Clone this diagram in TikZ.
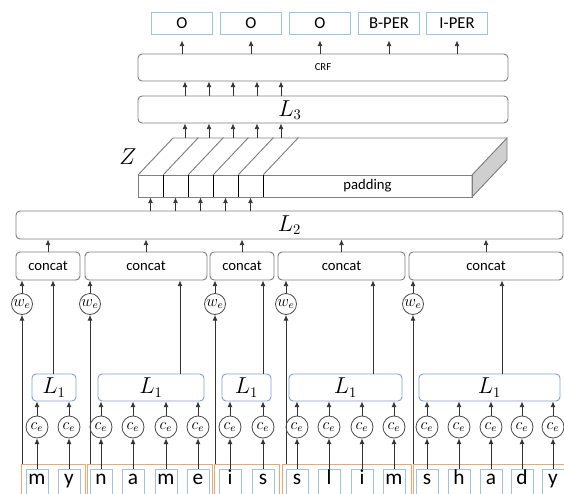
\documentclass[tikz,border=0pt]{standalone}
\usepackage{fontspec}
\setsansfont{Carlito}
\usetikzlibrary{arrows.meta}
\definecolor{boxgray}{HTML}{7F7F7F}
\definecolor{lblue}{HTML}{9DC3E6}
\definecolor{lonecol}{HTML}{7FA0DA}
\definecolor{orng}{HTML}{F2A66E}
\definecolor{zside}{HTML}{CFCFCF}

\begin{document}
\begin{tikzpicture}[
    x=0.75pt, y=-0.75pt,
    sz/.style 2 args={minimum width=#1*0.75pt, minimum height=#2*0.75pt},
    box/.style={rectangle, rounded corners=3pt, draw=boxgray, line width=0.7pt, inner sep=0pt, font=\sffamily\fontsize{11}{13}\selectfont},
    lbox/.style={box, font=\fontsize{16}{18}\selectfont},
    lone/.style={lbox, draw=lonecol},
    outbox/.style={rectangle, draw=lblue, line width=0.7pt, inner sep=0pt, font=\sffamily\fontsize{12.5}{15}\selectfont},
    letter/.style={outbox, sz={22}{25}, font=\sffamily\fontsize{16}{18}\selectfont, text height=0.47em, text depth=0pt},
    grp/.style={rectangle, draw=orng, line width=0.7pt},
    emb/.style={circle, draw=black!70, line width=0.6pt, inner sep=0pt, minimum size=16.5pt, font=\fontsize{12}{14}\selectfont},
    cell/.style={rectangle, draw=boxgray, line width=0.7pt, inner sep=0pt, sz={25}{22}, font=\sffamily\fontsize{11}{13}\selectfont},
    zline/.style={draw=boxgray, line width=0.7pt},
    divider/.style={draw=black, line width=1.1pt},
    arr/.style={-{Latex[length=4.2pt,width=3.6pt]}, line width=0.6pt, black!80}
]
\clip (0,0) rectangle (564,493);

% output tags
\foreach \lab/\x [count=\i] in {O/182, O/251, O/320, B-PER/389, I-PER/457}
  \node[outbox, sz={61}{22}] (o\i) at (\x,23) {\lab};

\node[box, sz={370}{27}, font=\sffamily\fontsize{8}{9}\selectfont] (crf) at (323,67.5) {CRF};
\node[box, sz={370}{27}] (l3) at (323,109.5) {};
\node[font=\fontsize{16}{18}\selectfont, inner sep=0pt] (l3lab) at (290,110) {$L_3$};

% Z block
\filldraw[zline, fill=zside] (472,175) -- (507,138) -- (507,160) -- (472,197) -- cycle;
\draw[zline] (138,175) -- (173,138) -- (507,138);
\foreach \i in {1,...,5}
  \node[cell] (zc\i) at ({125.5+25*\i},186) {};
\node[cell, sz={209}{22}] (pad) at (367.5,186) {padding};
\foreach \i in {1,...,5} {
  \draw[zline] (zc\i.north east) -- ++(35,-37);
  \draw[divider] (zc\i.north east) -- (zc\i.south east);
}
\node[font=\fontsize{18}{20}\selectfont, inner sep=0pt] (zlab) at (128,157) {$Z$};

\node[lbox, sz={547}{28}] (l2) at (289.5,225) {$L_2$};

\foreach \i in {1,...,5} {
  \coordinate (zb\i) at ({161+24*\i},138);
  \draw[arr] (zc\i.south |- l2.north) -- (zc\i.south);
  \draw[arr] (zb\i) -- (zb\i |- l3.south);
  \draw[arr] (zb\i |- l3.north) -- (zb\i |- crf.south);
  \draw[arr, shorten >=4.5pt] (crf.north -| o\i.south) -- (o\i.south);
}

% words
\foreach \w/\gx/\gw/\lx/\lw/\wx/\tx/\cx/\cw in {
    1/53/64/54/44/22/53/48/64,
    2/149.5/125/151/106/90/180/146/122,
    3/246.5/65/246.5/49/215/263/242/64,
    4/346.5/129/345.5/113/286/373/341.5/127,
    5/494/162/489.5/141/413/502/486/154} {
  \node[grp, sz={\gw}{46}] (grp\w) at (\gx,487) {};
  \node[lone, sz={\lw}{27}] (lone\w) at (\lx,387.5) {$L_1$};
  \node[box, sz={\cw}{28}] (cat\w) at (\cx,266) {concat};
  \node[emb, minimum size=15.75pt] (we\w) at (\wx,304) {$w_e$};
  \coordinate (tap\w) at (\tx,374);
  \draw[arr] (cat\w) -- (cat\w |- l2.south);
  \draw[arr] (we\w) -- (we\w |- cat\w.south);
  \draw[arr] (we\w |- grp\w.north) -- (we\w);
  \draw[arr] (tap\w) -- (tap\w |- cat\w.south);
}

% characters
\foreach \ltr/\x/\w [count=\i] in {m/37/1, y/69/1, n/101/2, a/133/2, m/166/2, e/198/2,
    i/230/3, s/263/3, s/297/4, l/329/4, i/362/4, m/394/4,
    s/427/5, h/459/5, a/491/5, d/522/5, y/553/5} {
  \node[letter] (ch\i) at (\x,481.5) {\ltr};
  \node[emb] (ce\i) at (\x,427) {$c_e$};
  \draw[arr] (ch\i) -- (ce\i);
  \draw[arr] (ce\i) -- (ce\i |- lone\w.south);
}
\end{tikzpicture}
\end{document}
